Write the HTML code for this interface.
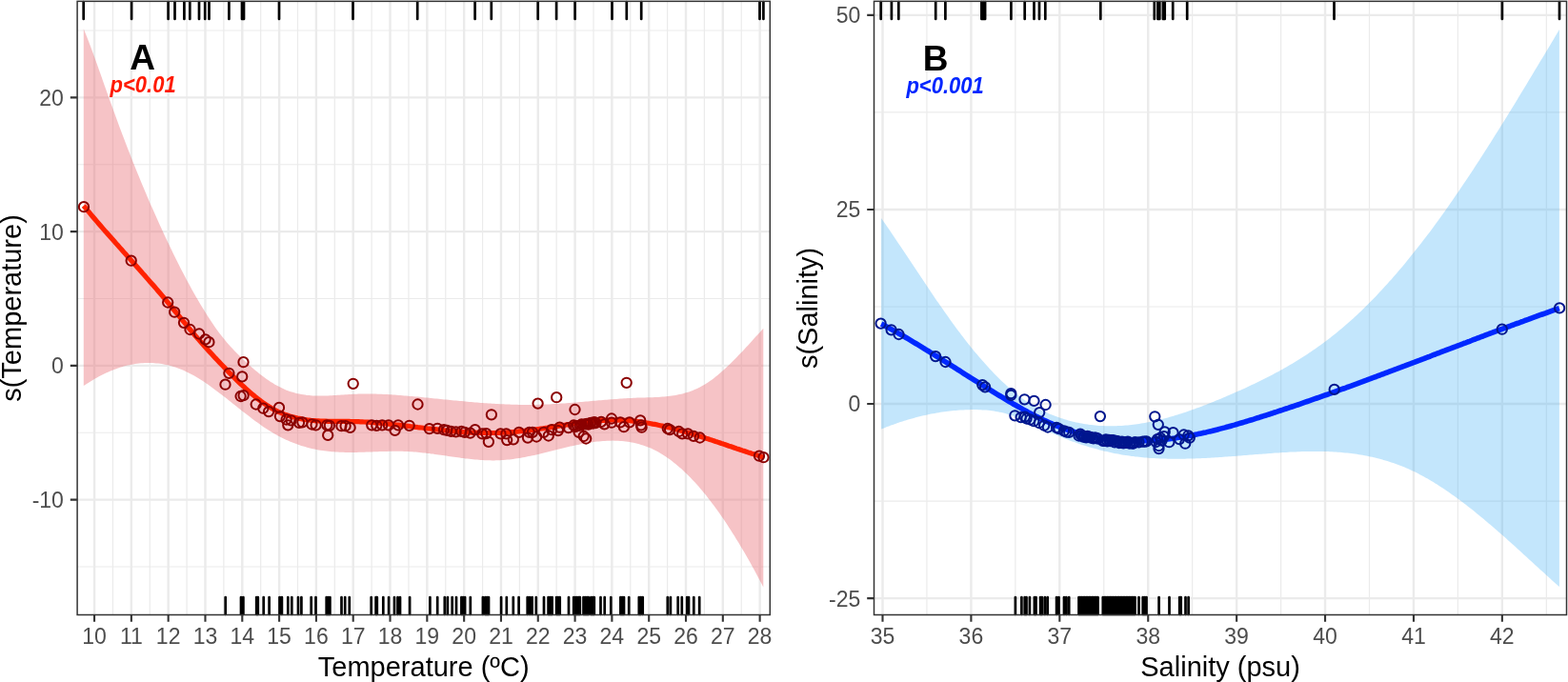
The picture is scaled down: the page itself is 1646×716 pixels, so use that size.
<!DOCTYPE html>
<html><head><meta charset="utf-8"><title>GAM smooths</title>
<style>
html,body{margin:0;padding:0;background:#fff;width:1646px;height:716px;overflow:hidden}
svg{display:block}
.mn{stroke:#ebebeb;stroke-width:1.2}
.mj{stroke:#ebebeb;stroke-width:2.4}
.rug{stroke:#000;stroke-width:2.7;fill:none;stroke-linecap:round}
.ln{stroke-width:5.2;stroke-linejoin:round;stroke-linecap:butt}
.pt circle{stroke-width:2.0}
.bd{fill:none;stroke:#333;stroke-width:1.5}
.tk{stroke:#333;stroke-width:2.1;fill:none}
text{font-family:"Liberation Sans",sans-serif}
.xl{font-size:23px;fill:#4d4d4d;text-anchor:middle}
.yl{font-size:23px;fill:#4d4d4d;text-anchor:end}
.ti{font-size:29px;fill:#000}
.lab{font-size:37px;font-weight:bold;fill:#000}
.pv{font-size:22px;font-weight:bold;font-style:italic}
</style></head>
<body>
<svg width="1646" height="716" viewBox="0 0 1646 716">
<rect width="1646" height="716" fill="#fff"/>
<line x1="81.1" y1="594.98" x2="808.3" y2="594.98" class="mn"/>
<line x1="81.1" y1="454.23" x2="808.3" y2="454.23" class="mn"/>
<line x1="81.1" y1="313.48" x2="808.3" y2="313.48" class="mn"/>
<line x1="81.1" y1="172.73" x2="808.3" y2="172.73" class="mn"/>
<line x1="81.1" y1="31.98" x2="808.3" y2="31.98" class="mn"/>
<line x1="118.45" y1="1.35" x2="118.45" y2="645.5" class="mn"/>
<line x1="157.26" y1="1.35" x2="157.26" y2="645.5" class="mn"/>
<line x1="196.07" y1="1.35" x2="196.07" y2="645.5" class="mn"/>
<line x1="234.88" y1="1.35" x2="234.88" y2="645.5" class="mn"/>
<line x1="273.69" y1="1.35" x2="273.69" y2="645.5" class="mn"/>
<line x1="312.5" y1="1.35" x2="312.5" y2="645.5" class="mn"/>
<line x1="351.31" y1="1.35" x2="351.31" y2="645.5" class="mn"/>
<line x1="390.13" y1="1.35" x2="390.13" y2="645.5" class="mn"/>
<line x1="428.94" y1="1.35" x2="428.94" y2="645.5" class="mn"/>
<line x1="467.75" y1="1.35" x2="467.75" y2="645.5" class="mn"/>
<line x1="506.56" y1="1.35" x2="506.56" y2="645.5" class="mn"/>
<line x1="545.37" y1="1.35" x2="545.37" y2="645.5" class="mn"/>
<line x1="584.17" y1="1.35" x2="584.17" y2="645.5" class="mn"/>
<line x1="622.99" y1="1.35" x2="622.99" y2="645.5" class="mn"/>
<line x1="661.79" y1="1.35" x2="661.79" y2="645.5" class="mn"/>
<line x1="700.61" y1="1.35" x2="700.61" y2="645.5" class="mn"/>
<line x1="739.41" y1="1.35" x2="739.41" y2="645.5" class="mn"/>
<line x1="778.23" y1="1.35" x2="778.23" y2="645.5" class="mn"/>
<line x1="81.1" y1="524.6" x2="808.3" y2="524.6" class="mj"/>
<line x1="81.1" y1="383.85" x2="808.3" y2="383.85" class="mj"/>
<line x1="81.1" y1="243.1" x2="808.3" y2="243.1" class="mj"/>
<line x1="81.1" y1="102.35" x2="808.3" y2="102.35" class="mj"/>
<line x1="99.05" y1="1.35" x2="99.05" y2="645.5" class="mj"/>
<line x1="137.86" y1="1.35" x2="137.86" y2="645.5" class="mj"/>
<line x1="176.67" y1="1.35" x2="176.67" y2="645.5" class="mj"/>
<line x1="215.48" y1="1.35" x2="215.48" y2="645.5" class="mj"/>
<line x1="254.29" y1="1.35" x2="254.29" y2="645.5" class="mj"/>
<line x1="293.1" y1="1.35" x2="293.1" y2="645.5" class="mj"/>
<line x1="331.91" y1="1.35" x2="331.91" y2="645.5" class="mj"/>
<line x1="370.72" y1="1.35" x2="370.72" y2="645.5" class="mj"/>
<line x1="409.53" y1="1.35" x2="409.53" y2="645.5" class="mj"/>
<line x1="448.34" y1="1.35" x2="448.34" y2="645.5" class="mj"/>
<line x1="487.15" y1="1.35" x2="487.15" y2="645.5" class="mj"/>
<line x1="525.96" y1="1.35" x2="525.96" y2="645.5" class="mj"/>
<line x1="564.77" y1="1.35" x2="564.77" y2="645.5" class="mj"/>
<line x1="603.58" y1="1.35" x2="603.58" y2="645.5" class="mj"/>
<line x1="642.39" y1="1.35" x2="642.39" y2="645.5" class="mj"/>
<line x1="681.2" y1="1.35" x2="681.2" y2="645.5" class="mj"/>
<line x1="720.01" y1="1.35" x2="720.01" y2="645.5" class="mj"/>
<line x1="758.82" y1="1.35" x2="758.82" y2="645.5" class="mj"/>
<line x1="797.63" y1="1.35" x2="797.63" y2="645.5" class="mj"/>
<polygon points="87.8,30.2 89.8,35.2 91.8,40.3 93.8,45.5 95.8,50.8 97.8,56.2 99.8,61.7 101.8,67.3 103.8,73.0 105.8,78.6 107.8,84.3 109.8,90.0 111.9,95.7 113.9,101.4 115.9,107.0 117.9,112.6 119.9,118.1 121.9,123.6 123.9,129.1 125.9,134.4 127.9,139.8 129.9,145.1 131.9,150.3 133.9,155.5 135.9,160.6 137.9,165.7 139.9,170.8 141.9,175.8 143.9,180.7 145.9,185.6 147.9,190.5 149.9,195.3 151.9,200.1 153.9,204.8 155.9,209.5 157.9,214.2 160.0,218.8 162.0,223.3 164.0,227.8 166.0,232.3 168.0,236.7 170.0,241.1 172.0,245.4 174.0,249.7 176.0,253.9 178.0,258.1 180.0,262.3 182.0,266.4 184.0,270.5 186.0,274.5 188.0,278.5 190.0,282.4 192.0,286.2 194.0,290.1 196.0,293.9 198.0,297.6 200.0,301.3 202.0,304.9 204.0,308.5 206.0,312.0 208.1,315.5 210.1,318.9 212.1,322.3 214.1,325.6 216.1,328.8 218.1,332.0 220.1,335.1 222.1,338.1 224.1,341.1 226.1,344.0 228.1,346.7 230.1,349.4 232.1,352.0 234.1,354.6 236.1,357.0 238.1,359.4 240.1,361.7 242.1,363.9 244.1,366.1 246.1,368.2 248.1,370.3 250.1,372.3 252.1,374.3 254.1,376.2 256.2,378.1 258.2,380.0 260.2,381.9 262.2,383.7 264.2,385.5 266.2,387.2 268.2,388.9 270.2,390.6 272.2,392.2 274.2,393.7 276.2,395.3 278.2,396.7 280.2,398.2 282.2,399.5 284.2,400.9 286.2,402.1 288.2,403.4 290.2,404.5 292.2,405.6 294.2,406.6 296.2,407.6 298.2,408.5 300.2,409.4 302.3,410.2 304.3,410.9 306.3,411.5 308.3,412.1 310.3,412.7 312.3,413.2 314.3,413.6 316.3,414.0 318.3,414.3 320.3,414.6 322.3,414.9 324.3,415.1 326.3,415.2 328.3,415.4 330.3,415.5 332.3,415.5 334.3,415.6 336.3,415.6 338.3,415.6 340.3,415.5 342.3,415.5 344.3,415.4 346.3,415.3 348.3,415.2 350.4,415.1 352.4,415.0 354.4,414.8 356.4,414.7 358.4,414.6 360.4,414.4 362.4,414.3 364.4,414.2 366.4,414.0 368.4,413.9 370.4,413.8 372.4,413.7 374.4,413.7 376.4,413.6 378.4,413.6 380.4,413.5 382.4,413.5 384.4,413.5 386.4,413.5 388.4,413.5 390.4,413.5 392.4,413.6 394.4,413.6 396.4,413.7 398.5,413.7 400.5,413.8 402.5,413.9 404.5,414.0 406.5,414.1 408.5,414.2 410.5,414.3 412.5,414.5 414.5,414.6 416.5,414.7 418.5,414.9 420.5,415.0 422.5,415.2 424.5,415.4 426.5,415.5 428.5,415.7 430.5,415.9 432.5,416.0 434.5,416.2 436.5,416.4 438.5,416.6 440.5,416.8 442.5,417.0 444.6,417.2 446.6,417.4 448.6,417.6 450.6,417.8 452.6,418.0 454.6,418.2 456.6,418.4 458.6,418.6 460.6,418.8 462.6,419.0 464.6,419.2 466.6,419.4 468.6,419.6 470.6,419.8 472.6,420.0 474.6,420.2 476.6,420.4 478.6,420.6 480.6,420.8 482.6,421.0 484.6,421.1 486.6,421.3 488.6,421.5 490.6,421.7 492.7,421.9 494.7,422.0 496.7,422.2 498.7,422.4 500.7,422.5 502.7,422.7 504.7,422.9 506.7,423.0 508.7,423.2 510.7,423.3 512.7,423.4 514.7,423.6 516.7,423.7 518.7,423.8 520.7,423.9 522.7,424.0 524.7,424.2 526.7,424.3 528.7,424.3 530.7,424.4 532.7,424.5 534.7,424.6 536.7,424.7 538.7,424.7 540.8,424.8 542.8,424.8 544.8,424.9 546.8,424.9 548.8,424.9 550.8,424.9 552.8,424.9 554.8,424.9 556.8,424.9 558.8,424.9 560.8,424.9 562.8,424.9 564.8,424.8 566.8,424.8 568.8,424.7 570.8,424.6 572.8,424.5 574.8,424.4 576.8,424.4 578.8,424.3 580.8,424.1 582.8,424.0 584.8,423.9 586.8,423.8 588.9,423.6 590.9,423.5 592.9,423.4 594.9,423.2 596.9,423.1 598.9,422.9 600.9,422.7 602.9,422.6 604.9,422.4 606.9,422.2 608.9,422.1 610.9,421.9 612.9,421.7 614.9,421.6 616.9,421.4 618.9,421.2 620.9,421.0 622.9,420.8 624.9,420.7 626.9,420.5 628.9,420.3 630.9,420.2 632.9,420.0 635.0,419.8 637.0,419.7 639.0,419.5 641.0,419.3 643.0,419.2 645.0,419.0 647.0,418.9 649.0,418.7 651.0,418.6 653.0,418.5 655.0,418.3 657.0,418.2 659.0,418.1 661.0,418.0 663.0,417.9 665.0,417.8 667.0,417.7 669.0,417.6 671.0,417.6 673.0,417.5 675.0,417.4 677.0,417.4 679.0,417.3 681.0,417.3 683.1,417.2 685.1,417.2 687.1,417.1 689.1,417.0 691.1,416.9 693.1,416.8 695.1,416.6 697.1,416.5 699.1,416.3 701.1,416.1 703.1,415.8 705.1,415.6 707.1,415.3 709.1,414.9 711.1,414.5 713.1,414.1 715.1,413.7 717.1,413.2 719.1,412.6 721.1,412.0 723.1,411.4 725.1,410.7 727.1,409.9 729.1,409.1 731.2,408.2 733.2,407.2 735.2,406.2 737.2,405.1 739.2,404.0 741.2,402.8 743.2,401.5 745.2,400.1 747.2,398.7 749.2,397.2 751.2,395.6 753.2,394.0 755.2,392.3 757.2,390.6 759.2,388.8 761.2,387.0 763.2,385.1 765.2,383.2 767.2,381.3 769.2,379.3 771.2,377.3 773.2,375.2 775.2,373.1 777.2,371.0 779.3,368.9 781.3,366.8 783.3,364.6 785.3,362.4 787.3,360.2 789.3,358.0 791.3,355.8 793.3,353.6 795.3,351.4 797.3,349.2 799.3,347.0 801.3,344.8 801.3,616.4 799.3,612.5 797.3,608.7 795.3,605.0 793.3,601.2 791.3,597.6 789.3,593.9 787.3,590.3 785.3,586.8 783.3,583.2 781.3,579.8 779.3,576.4 777.2,573.0 775.2,569.6 773.2,566.4 771.2,563.1 769.2,559.9 767.2,556.8 765.2,553.7 763.2,550.6 761.2,547.6 759.2,544.6 757.2,541.7 755.2,538.8 753.2,536.0 751.2,533.2 749.2,530.5 747.2,527.9 745.2,525.2 743.2,522.7 741.2,520.1 739.2,517.7 737.2,515.3 735.2,512.9 733.2,510.6 731.2,508.3 729.1,506.1 727.1,503.9 725.1,501.8 723.1,499.8 721.1,497.8 719.1,495.9 717.1,494.0 715.1,492.1 713.1,490.4 711.1,488.7 709.1,487.0 707.1,485.4 705.1,483.8 703.1,482.3 701.1,480.9 699.1,479.5 697.1,478.2 695.1,477.0 693.1,475.8 691.1,474.6 689.1,473.5 687.1,472.5 685.1,471.5 683.1,470.6 681.0,469.8 679.0,469.0 677.0,468.2 675.0,467.6 673.0,466.9 671.0,466.3 669.0,465.8 667.0,465.3 665.0,464.8 663.0,464.4 661.0,464.1 659.0,463.8 657.0,463.5 655.0,463.3 653.0,463.1 651.0,462.9 649.0,462.8 647.0,462.7 645.0,462.7 643.0,462.6 641.0,462.7 639.0,462.7 637.0,462.8 635.0,462.9 632.9,463.0 630.9,463.2 628.9,463.4 626.9,463.6 624.9,463.8 622.9,464.1 620.9,464.4 618.9,464.7 616.9,465.0 614.9,465.3 612.9,465.7 610.9,466.1 608.9,466.5 606.9,466.9 604.9,467.3 602.9,467.7 600.9,468.2 598.9,468.6 596.9,469.1 594.9,469.6 592.9,470.1 590.9,470.5 588.9,471.0 586.8,471.5 584.8,472.0 582.8,472.5 580.8,473.0 578.8,473.5 576.8,474.0 574.8,474.5 572.8,475.0 570.8,475.5 568.8,476.0 566.8,476.5 564.8,476.9 562.8,477.4 560.8,477.9 558.8,478.3 556.8,478.7 554.8,479.1 552.8,479.5 550.8,479.9 548.8,480.3 546.8,480.7 544.8,481.0 542.8,481.3 540.8,481.6 538.7,481.9 536.7,482.2 534.7,482.4 532.7,482.6 530.7,482.8 528.7,483.0 526.7,483.1 524.7,483.2 522.7,483.3 520.7,483.3 518.7,483.4 516.7,483.4 514.7,483.3 512.7,483.3 510.7,483.2 508.7,483.2 506.7,483.0 504.7,482.9 502.7,482.8 500.7,482.6 498.7,482.4 496.7,482.3 494.7,482.1 492.7,481.8 490.6,481.6 488.6,481.4 486.6,481.1 484.6,480.9 482.6,480.6 480.6,480.3 478.6,480.1 476.6,479.8 474.6,479.5 472.6,479.2 470.6,478.9 468.6,478.6 466.6,478.3 464.6,478.0 462.6,477.7 460.6,477.5 458.6,477.2 456.6,476.9 454.6,476.6 452.6,476.4 450.6,476.1 448.6,475.9 446.6,475.6 444.6,475.4 442.5,475.2 440.5,475.0 438.5,474.8 436.5,474.6 434.5,474.4 432.5,474.3 430.5,474.2 428.5,474.1 426.5,474.0 424.5,473.9 422.5,473.8 420.5,473.8 418.5,473.8 416.5,473.8 414.5,473.8 412.5,473.8 410.5,473.8 408.5,473.8 406.5,473.9 404.5,473.9 402.5,474.0 400.5,474.0 398.5,474.1 396.4,474.2 394.4,474.3 392.4,474.3 390.4,474.4 388.4,474.5 386.4,474.5 384.4,474.6 382.4,474.7 380.4,474.7 378.4,474.8 376.4,474.8 374.4,474.9 372.4,474.9 370.4,474.9 368.4,474.9 366.4,474.9 364.4,474.9 362.4,474.9 360.4,474.8 358.4,474.8 356.4,474.7 354.4,474.6 352.4,474.5 350.4,474.3 348.3,474.2 346.3,474.0 344.3,473.8 342.3,473.6 340.3,473.3 338.3,473.0 336.3,472.7 334.3,472.4 332.3,472.0 330.3,471.6 328.3,471.2 326.3,470.7 324.3,470.2 322.3,469.7 320.3,469.1 318.3,468.5 316.3,467.9 314.3,467.3 312.3,466.6 310.3,465.8 308.3,465.1 306.3,464.3 304.3,463.4 302.3,462.6 300.2,461.7 298.2,460.7 296.2,459.7 294.2,458.7 292.2,457.7 290.2,456.6 288.2,455.4 286.2,454.3 284.2,453.1 282.2,451.8 280.2,450.5 278.2,449.2 276.2,447.9 274.2,446.5 272.2,445.1 270.2,443.6 268.2,442.2 266.2,440.7 264.2,439.2 262.2,437.6 260.2,436.1 258.2,434.5 256.2,433.0 254.1,431.4 252.1,429.8 250.1,428.2 248.1,426.6 246.1,425.0 244.1,423.4 242.1,421.8 240.1,420.2 238.1,418.6 236.1,417.0 234.1,415.5 232.1,413.9 230.1,412.4 228.1,410.9 226.1,409.4 224.1,407.9 222.1,406.4 220.1,405.0 218.1,403.6 216.1,402.2 214.1,400.8 212.1,399.5 210.1,398.2 208.1,397.0 206.0,395.8 204.0,394.6 202.0,393.5 200.0,392.4 198.0,391.4 196.0,390.4 194.0,389.5 192.0,388.6 190.0,387.8 188.0,387.0 186.0,386.3 184.0,385.6 182.0,384.9 180.0,384.3 178.0,383.8 176.0,383.3 174.0,382.9 172.0,382.5 170.0,382.1 168.0,381.8 166.0,381.6 164.0,381.4 162.0,381.2 160.0,381.1 157.9,381.0 155.9,381.0 153.9,381.0 151.9,381.1 149.9,381.2 147.9,381.3 145.9,381.5 143.9,381.8 141.9,382.1 139.9,382.4 137.9,382.7 135.9,383.2 133.9,383.6 131.9,384.1 129.9,384.6 127.9,385.2 125.9,385.8 123.9,386.5 121.9,387.2 119.9,388.0 117.9,388.7 115.9,389.6 113.9,390.4 111.9,391.3 109.8,392.3 107.8,393.2 105.8,394.3 103.8,395.3 101.8,396.4 99.8,397.5 97.8,398.7 95.8,399.9 93.8,401.2 91.8,402.4 89.8,403.8 87.8,405.1" fill="rgb(232,105,112)" fill-opacity="0.4"/>
<path d="M87.7 2.0V20.0M138.1 2.0V20.0M176.6 2.0V20.0M183.5 2.0V20.0M193.4 2.0V20.0M199.3 2.0V20.0M209.0 2.0V20.0M215.2 2.0V20.0M219.5 2.0V20.0M240.4 2.0V20.0M254.0 2.0V20.0M256.0 2.0V20.0M293.0 2.0V20.0M370.5 2.0V20.0M438.2 2.0V20.0M498.6 2.0V20.0M515.8 2.0V20.0M564.7 2.0V20.0M584.1 2.0V20.0M603.6 2.0V20.0M642.5 2.0V20.0M657.8 2.0V20.0M673.2 2.0V20.0M797.5 2.0V20.0M801.4 2.0V20.0M236.7 627.0V644.9M253.0 627.0V644.9M255.4 627.0V644.9M269.2 627.0V644.9M270.8 627.0V644.9M276.7 627.0V644.9M282.6 627.0V644.9M293.5 627.0V644.9M295.9 627.0V644.9M302.3 627.0V644.9M306.3 627.0V644.9M313.0 627.0V644.9M316.4 627.0V644.9M326.7 627.0V644.9M331.5 627.0V644.9M342.7 627.0V644.9M344.5 627.0V644.9M346.4 627.0V644.9M358.5 627.0V644.9M362.2 627.0V644.9M366.8 627.0V644.9M389.7 627.0V644.9M394.6 627.0V644.9M395.8 627.0V644.9M402.3 627.0V644.9M408.1 627.0V644.9M414.0 627.0V644.9M417.5 627.0V644.9M420.0 627.0V644.9M430.1 627.0V644.9M451.4 627.0V644.9M459.2 627.0V644.9M466.8 627.0V644.9M469.9 627.0V644.9M474.7 627.0V644.9M479.0 627.0V644.9M484.4 627.0V644.9M486.3 627.0V644.9M488.1 627.0V644.9M493.8 627.0V644.9M506.9 627.0V644.9M509.4 627.0V644.9M511.2 627.0V644.9M513.0 627.0V644.9M526.1 627.0V644.9M531.8 627.0V644.9M538.8 627.0V644.9M544.6 627.0V644.9M553.7 627.0V644.9M556.1 627.0V644.9M558.6 627.0V644.9M562.8 627.0V644.9M571.0 627.0V644.9M575.6 627.0V644.9M577.6 627.0V644.9M579.6 627.0V644.9M584.1 627.0V644.9M585.9 627.0V644.9M587.7 627.0V644.9M597.0 627.0V644.9M602.2 627.0V644.9M604.0 627.0V644.9M605.8 627.0V644.9M607.6 627.0V644.9M608.8 627.0V644.9M612.5 627.0V644.9M614.3 627.0V644.9M616.1 627.0V644.9M617.7 627.0V644.9M620.4 627.0V644.9M622.2 627.0V644.9M623.8 627.0V644.9M630.5 627.0V644.9M634.7 627.0V644.9M641.3 627.0V644.9M651.4 627.0V644.9M653.2 627.0V644.9M655.0 627.0V644.9M660.2 627.0V644.9M670.8 627.0V644.9M672.6 627.0V644.9M674.7 627.0V644.9M700.8 627.0V644.9M703.9 627.0V644.9M711.7 627.0V644.9M715.8 627.0V644.9M721.2 627.0V644.9M723.0 627.0V644.9M728.3 627.0V644.9M734.2 627.0V644.9" class="rug"/>
<polyline points="87.8,216.0 89.8,218.4 91.8,220.8 93.8,223.2 95.8,225.6 97.8,228.0 99.8,230.3 101.8,232.6 103.8,235.0 105.8,237.3 107.8,239.6 109.8,241.9 111.9,244.2 113.9,246.5 115.9,248.8 117.9,251.0 119.9,253.3 121.9,255.6 123.9,257.8 125.9,260.1 127.9,262.3 129.9,264.6 131.9,266.8 133.9,269.1 135.9,271.3 137.9,273.5 139.9,275.8 141.9,278.0 143.9,280.3 145.9,282.5 147.9,284.8 149.9,287.1 151.9,289.3 153.9,291.6 155.9,293.9 157.9,296.2 160.0,298.5 162.0,300.8 164.0,303.1 166.0,305.5 168.0,307.8 170.0,310.2 172.0,312.5 174.0,314.9 176.0,317.3 178.0,319.7 180.0,322.1 182.0,324.6 184.0,327.0 186.0,329.5 188.0,331.9 190.0,334.4 192.0,336.8 194.0,339.2 196.0,341.7 198.0,344.1 200.0,346.5 202.0,348.9 204.0,351.2 206.0,353.6 208.1,355.9 210.1,358.2 212.1,360.4 214.1,362.7 216.1,364.9 218.1,367.2 220.1,369.4 222.1,371.5 224.1,373.7 226.1,375.9 228.1,378.0 230.1,380.1 232.1,382.2 234.1,384.3 236.1,386.4 238.1,388.5 240.1,390.6 242.1,392.6 244.1,394.6 246.1,396.6 248.1,398.6 250.1,400.6 252.1,402.5 254.1,404.4 256.2,406.3 258.2,408.1 260.2,409.9 262.2,411.7 264.2,413.4 266.2,415.1 268.2,416.8 270.2,418.4 272.2,419.9 274.2,421.4 276.2,422.8 278.2,424.2 280.2,425.6 282.2,426.8 284.2,428.0 286.2,429.2 288.2,430.3 290.2,431.3 292.2,432.3 294.2,433.2 296.2,434.0 298.2,434.8 300.2,435.6 302.3,436.2 304.3,436.9 306.3,437.5 308.3,438.0 310.3,438.5 312.3,439.0 314.3,439.4 316.3,439.8 318.3,440.2 320.3,440.5 322.3,440.8 324.3,441.0 326.3,441.3 328.3,441.5 330.3,441.6 332.3,441.8 334.3,441.9 336.3,442.0 338.3,442.1 340.3,442.2 342.3,442.2 344.3,442.3 346.3,442.3 348.3,442.3 350.4,442.4 352.4,442.4 354.4,442.4 356.4,442.4 358.4,442.4 360.4,442.4 362.4,442.4 364.4,442.4 366.4,442.4 368.4,442.5 370.4,442.5 372.4,442.6 374.4,442.6 376.4,442.7 378.4,442.8 380.4,442.9 382.4,443.0 384.4,443.1 386.4,443.2 388.4,443.3 390.4,443.5 392.4,443.6 394.4,443.8 396.4,444.0 398.5,444.1 400.5,444.3 402.5,444.5 404.5,444.7 406.5,444.9 408.5,445.1 410.5,445.3 412.5,445.5 414.5,445.7 416.5,446.0 418.5,446.2 420.5,446.4 422.5,446.6 424.5,446.9 426.5,447.1 428.5,447.3 430.5,447.6 432.5,447.8 434.5,448.1 436.5,448.3 438.5,448.6 440.5,448.8 442.5,449.0 444.6,449.3 446.6,449.5 448.6,449.8 450.6,450.0 452.6,450.2 454.6,450.5 456.6,450.7 458.6,450.9 460.6,451.2 462.6,451.4 464.6,451.6 466.6,451.8 468.6,452.0 470.6,452.2 472.6,452.4 474.6,452.6 476.6,452.8 478.6,452.9 480.6,453.1 482.6,453.3 484.6,453.4 486.6,453.6 488.6,453.7 490.6,453.8 492.7,454.0 494.7,454.1 496.7,454.2 498.7,454.2 500.7,454.3 502.7,454.4 504.7,454.5 506.7,454.5 508.7,454.5 510.7,454.5 512.7,454.6 514.7,454.5 516.7,454.5 518.7,454.5 520.7,454.5 522.7,454.4 524.7,454.3 526.7,454.2 528.7,454.1 530.7,454.0 532.7,453.9 534.7,453.8 536.7,453.6 538.7,453.5 540.8,453.3 542.8,453.1 544.8,452.9 546.8,452.7 548.8,452.5 550.8,452.3 552.8,452.1 554.8,451.8 556.8,451.6 558.8,451.3 560.8,451.1 562.8,450.8 564.8,450.5 566.8,450.2 568.8,450.0 570.8,449.7 572.8,449.4 574.8,449.1 576.8,448.7 578.8,448.4 580.8,448.1 582.8,447.8 584.8,447.5 586.8,447.1 588.9,446.8 590.9,446.5 592.9,446.2 594.9,445.9 596.9,445.6 598.9,445.3 600.9,444.9 602.9,444.7 604.9,444.4 606.9,444.1 608.9,443.8 610.9,443.5 612.9,443.3 614.9,443.0 616.9,442.8 618.9,442.6 620.9,442.3 622.9,442.1 624.9,442.0 626.9,441.8 628.9,441.6 630.9,441.5 632.9,441.4 635.0,441.3 637.0,441.2 639.0,441.1 641.0,441.0 643.0,441.0 645.0,441.0 647.0,441.0 649.0,441.1 651.0,441.1 653.0,441.2 655.0,441.3 657.0,441.4 659.0,441.6 661.0,441.7 663.0,441.9 665.0,442.1 667.0,442.3 669.0,442.5 671.0,442.8 673.0,443.1 675.0,443.4 677.0,443.7 679.0,444.0 681.0,444.3 683.1,444.7 685.1,445.1 687.1,445.4 689.1,445.8 691.1,446.3 693.1,446.7 695.1,447.1 697.1,447.6 699.1,448.1 701.1,448.5 703.1,449.0 705.1,449.5 707.1,450.0 709.1,450.6 711.1,451.1 713.1,451.7 715.1,452.2 717.1,452.8 719.1,453.3 721.1,453.9 723.1,454.5 725.1,455.1 727.1,455.7 729.1,456.3 731.2,457.0 733.2,457.6 735.2,458.2 737.2,458.9 739.2,459.5 741.2,460.2 743.2,460.8 745.2,461.5 747.2,462.1 749.2,462.8 751.2,463.5 753.2,464.1 755.2,464.8 757.2,465.5 759.2,466.1 761.2,466.8 763.2,467.5 765.2,468.2 767.2,468.8 769.2,469.5 771.2,470.2 773.2,470.9 775.2,471.5 777.2,472.2 779.3,472.9 781.3,473.5 783.3,474.2 785.3,474.9 787.3,475.5 789.3,476.2 791.3,476.8 793.3,477.5 795.3,478.1 797.3,478.7 799.3,479.4 801.3,480.0" fill="none" stroke="#ff2200" class="ln"/>
<g fill="none" stroke="#8b0000" class="pt"><circle cx="88.0" cy="217.2" r="5.15"/><circle cx="137.7" cy="273.7" r="5.15"/><circle cx="176.2" cy="317.5" r="5.15"/><circle cx="183.2" cy="327.7" r="5.15"/><circle cx="193.0" cy="338.8" r="5.15"/><circle cx="199.5" cy="346.0" r="5.15"/><circle cx="209.1" cy="350.5" r="5.15"/><circle cx="215.6" cy="356.3" r="5.15"/><circle cx="219.4" cy="359.2" r="5.15"/><circle cx="255.5" cy="380.2" r="5.15"/><circle cx="240.4" cy="391.8" r="5.15"/><circle cx="254.2" cy="395.4" r="5.15"/><circle cx="236.5" cy="403.7" r="5.15"/><circle cx="370.7" cy="402.8" r="5.15"/><circle cx="252.6" cy="416.0" r="5.15"/><circle cx="255.6" cy="415.2" r="5.15"/><circle cx="268.7" cy="424.5" r="5.15"/><circle cx="276.3" cy="428.7" r="5.15"/><circle cx="282.1" cy="432.1" r="5.15"/><circle cx="293.0" cy="427.9" r="5.15"/><circle cx="293.9" cy="437.1" r="5.15"/><circle cx="300.6" cy="440.5" r="5.15"/><circle cx="302.3" cy="446.3" r="5.15"/><circle cx="305.6" cy="441.3" r="5.15"/><circle cx="314.0" cy="443.8" r="5.15"/><circle cx="317.4" cy="443.3" r="5.15"/><circle cx="327.4" cy="445.5" r="5.15"/><circle cx="331.6" cy="446.3" r="5.15"/><circle cx="343.3" cy="446.3" r="5.15"/><circle cx="345.9" cy="446.8" r="5.15"/><circle cx="344.2" cy="456.9" r="5.15"/><circle cx="358.4" cy="447.2" r="5.15"/><circle cx="362.6" cy="447.2" r="5.15"/><circle cx="367.6" cy="448.9" r="5.15"/><circle cx="390.3" cy="446.3" r="5.15"/><circle cx="395.3" cy="446.8" r="5.15"/><circle cx="401.2" cy="446.3" r="5.15"/><circle cx="407.9" cy="446.3" r="5.15"/><circle cx="414.6" cy="451.9" r="5.15"/><circle cx="418.0" cy="446.3" r="5.15"/><circle cx="429.7" cy="446.8" r="5.15"/><circle cx="438.5" cy="424.5" r="5.15"/><circle cx="450.7" cy="450.1" r="5.15"/><circle cx="459.2" cy="449.8" r="5.15"/><circle cx="466.0" cy="451.2" r="5.15"/><circle cx="469.3" cy="451.8" r="5.15"/><circle cx="473.5" cy="452.9" r="5.15"/><circle cx="478.6" cy="453.4" r="5.15"/><circle cx="484.4" cy="452.9" r="5.15"/><circle cx="487.8" cy="453.8" r="5.15"/><circle cx="493.6" cy="454.6" r="5.15"/><circle cx="498.7" cy="451.2" r="5.15"/><circle cx="506.2" cy="455.4" r="5.15"/><circle cx="510.4" cy="455.1" r="5.15"/><circle cx="515.9" cy="435.3" r="5.15"/><circle cx="512.9" cy="463.8" r="5.15"/><circle cx="525.5" cy="455.4" r="5.15"/><circle cx="531.4" cy="455.4" r="5.15"/><circle cx="532.2" cy="462.1" r="5.15"/><circle cx="538.9" cy="461.3" r="5.15"/><circle cx="544.8" cy="453.8" r="5.15"/><circle cx="554.0" cy="459.6" r="5.15"/><circle cx="555.7" cy="453.8" r="5.15"/><circle cx="559.0" cy="453.8" r="5.15"/><circle cx="563.2" cy="458.5" r="5.15"/><circle cx="564.6" cy="423.6" r="5.15"/><circle cx="570.8" cy="453.8" r="5.15"/><circle cx="575.8" cy="457.5" r="5.15"/><circle cx="579.1" cy="451.2" r="5.15"/><circle cx="584.2" cy="417.2" r="5.15"/><circle cx="585.9" cy="452.1" r="5.15"/><circle cx="587.5" cy="448.7" r="5.15"/><circle cx="596.7" cy="449.1" r="5.15"/><circle cx="603.5" cy="430.0" r="5.15"/><circle cx="606.0" cy="447.1" r="5.15"/><circle cx="607.6" cy="453.8" r="5.15"/><circle cx="612.7" cy="458.0" r="5.15"/><circle cx="615.2" cy="460.5" r="5.15"/><circle cx="614.3" cy="445.4" r="5.15"/><circle cx="619.4" cy="444.5" r="5.15"/><circle cx="622.7" cy="444.5" r="5.15"/><circle cx="602.2" cy="446.5" r="5.15"/><circle cx="604.0" cy="448.0" r="5.15"/><circle cx="608.8" cy="446.6" r="5.15"/><circle cx="610.5" cy="445.5" r="5.15"/><circle cx="616.1" cy="444.8" r="5.15"/><circle cx="617.7" cy="445.6" r="5.15"/><circle cx="620.4" cy="443.8" r="5.15"/><circle cx="623.8" cy="443.2" r="5.15"/><circle cx="625.5" cy="444.0" r="5.15"/><circle cx="631.1" cy="442.9" r="5.15"/><circle cx="634.5" cy="445.4" r="5.15"/><circle cx="642.0" cy="439.5" r="5.15"/><circle cx="642.0" cy="443.7" r="5.15"/><circle cx="651.2" cy="443.4" r="5.15"/><circle cx="654.9" cy="448.2" r="5.15"/><circle cx="657.7" cy="401.8" r="5.15"/><circle cx="660.8" cy="443.4" r="5.15"/><circle cx="672.2" cy="441.4" r="5.15"/><circle cx="673.0" cy="446.3" r="5.15"/><circle cx="673.6" cy="448.7" r="5.15"/><circle cx="700.8" cy="450.0" r="5.15"/><circle cx="703.1" cy="451.1" r="5.15"/><circle cx="712.6" cy="453.0" r="5.15"/><circle cx="716.2" cy="455.4" r="5.15"/><circle cx="722.1" cy="455.4" r="5.15"/><circle cx="728.1" cy="457.8" r="5.15"/><circle cx="734.7" cy="459.5" r="5.15"/><circle cx="797.0" cy="478.7" r="5.15"/><circle cx="801.5" cy="480.2" r="5.15"/></g>
<rect x="81.1" y="1.35" width="727.2" height="644.15" class="bd"/>
<path d="M99.05 645.5V652.8M137.86 645.5V652.8M176.67 645.5V652.8M215.48 645.5V652.8M254.29 645.5V652.8M293.10 645.5V652.8M331.91 645.5V652.8M370.72 645.5V652.8M409.53 645.5V652.8M448.34 645.5V652.8M487.15 645.5V652.8M525.96 645.5V652.8M564.77 645.5V652.8M603.58 645.5V652.8M642.39 645.5V652.8M681.20 645.5V652.8M720.01 645.5V652.8M758.82 645.5V652.8M797.63 645.5V652.8M73.8 524.60H81.1M73.8 383.85H81.1M73.8 243.10H81.1M73.8 102.35H81.1" class="tk"/>
<text x="99.05" y="676.2" class="xl">10</text>
<text x="137.86" y="676.2" class="xl">11</text>
<text x="176.67" y="676.2" class="xl">12</text>
<text x="215.48" y="676.2" class="xl">13</text>
<text x="254.29" y="676.2" class="xl">14</text>
<text x="293.10" y="676.2" class="xl">15</text>
<text x="331.91" y="676.2" class="xl">16</text>
<text x="370.72" y="676.2" class="xl">17</text>
<text x="409.53" y="676.2" class="xl">18</text>
<text x="448.34" y="676.2" class="xl">19</text>
<text x="487.15" y="676.2" class="xl">20</text>
<text x="525.96" y="676.2" class="xl">21</text>
<text x="564.77" y="676.2" class="xl">22</text>
<text x="603.58" y="676.2" class="xl">23</text>
<text x="642.39" y="676.2" class="xl">24</text>
<text x="681.20" y="676.2" class="xl">25</text>
<text x="720.01" y="676.2" class="xl">26</text>
<text x="758.82" y="676.2" class="xl">27</text>
<text x="797.63" y="676.2" class="xl">28</text>
<text x="66.9" y="533.00" class="yl">-10</text>
<text x="66.9" y="392.25" class="yl">0</text>
<text x="66.9" y="251.50" class="yl">10</text>
<text x="66.9" y="110.75" class="yl">20</text>
<text x="136.3" y="73.2" class="lab">A</text>
<text transform="translate(115.6 97.3) scale(1 1.07)" class="pv" fill="#ff1a00">p&lt;0.01</text>
<line x1="917.5" y1="526.09" x2="1644.5" y2="526.09" class="mn"/>
<line x1="917.5" y1="322.01" x2="1644.5" y2="322.01" class="mn"/>
<line x1="917.5" y1="117.94" x2="1644.5" y2="117.94" class="mn"/>
<line x1="972.96" y1="1.35" x2="972.96" y2="645.5" class="mn"/>
<line x1="1065.87" y1="1.35" x2="1065.87" y2="645.5" class="mn"/>
<line x1="1158.78" y1="1.35" x2="1158.78" y2="645.5" class="mn"/>
<line x1="1251.68" y1="1.35" x2="1251.68" y2="645.5" class="mn"/>
<line x1="1344.6" y1="1.35" x2="1344.6" y2="645.5" class="mn"/>
<line x1="1437.51" y1="1.35" x2="1437.51" y2="645.5" class="mn"/>
<line x1="1530.41" y1="1.35" x2="1530.41" y2="645.5" class="mn"/>
<line x1="1623.32" y1="1.35" x2="1623.32" y2="645.5" class="mn"/>
<line x1="917.5" y1="628.12" x2="1644.5" y2="628.12" class="mj"/>
<line x1="917.5" y1="424.05" x2="1644.5" y2="424.05" class="mj"/>
<line x1="917.5" y1="219.97" x2="1644.5" y2="219.97" class="mj"/>
<line x1="917.5" y1="15.9" x2="1644.5" y2="15.9" class="mj"/>
<line x1="926.5" y1="1.35" x2="926.5" y2="645.5" class="mj"/>
<line x1="1019.41" y1="1.35" x2="1019.41" y2="645.5" class="mj"/>
<line x1="1112.32" y1="1.35" x2="1112.32" y2="645.5" class="mj"/>
<line x1="1205.23" y1="1.35" x2="1205.23" y2="645.5" class="mj"/>
<line x1="1298.14" y1="1.35" x2="1298.14" y2="645.5" class="mj"/>
<line x1="1391.05" y1="1.35" x2="1391.05" y2="645.5" class="mj"/>
<line x1="1483.96" y1="1.35" x2="1483.96" y2="645.5" class="mj"/>
<line x1="1576.87" y1="1.35" x2="1576.87" y2="645.5" class="mj"/>
<polygon points="925.1,229.0 927.1,231.9 929.1,234.8 931.1,237.7 933.1,240.6 935.1,243.5 937.1,246.5 939.1,249.4 941.1,252.4 943.1,255.4 945.2,258.4 947.2,261.4 949.2,264.4 951.2,267.4 953.2,270.4 955.2,273.5 957.2,276.5 959.2,279.5 961.2,282.5 963.2,285.5 965.2,288.6 967.2,291.6 969.2,294.6 971.2,297.6 973.2,300.6 975.2,303.6 977.2,306.5 979.2,309.5 981.2,312.4 983.2,315.4 985.3,318.3 987.3,321.2 989.3,324.1 991.3,326.9 993.3,329.8 995.3,332.6 997.3,335.4 999.3,338.2 1001.3,340.9 1003.3,343.7 1005.3,346.4 1007.3,349.1 1009.3,351.7 1011.3,354.3 1013.3,356.9 1015.3,359.5 1017.3,362.0 1019.3,364.5 1021.3,367.0 1023.3,369.4 1025.4,371.8 1027.4,374.2 1029.4,376.5 1031.4,378.8 1033.4,381.1 1035.4,383.3 1037.4,385.5 1039.4,387.7 1041.4,389.8 1043.4,391.9 1045.4,393.9 1047.4,396.0 1049.4,397.9 1051.4,399.9 1053.4,401.8 1055.4,403.6 1057.4,405.5 1059.4,407.2 1061.4,409.0 1063.4,410.7 1065.5,412.3 1067.5,413.9 1069.5,415.5 1071.5,417.0 1073.5,418.5 1075.5,419.9 1077.5,421.3 1079.5,422.6 1081.5,423.9 1083.5,425.2 1085.5,426.4 1087.5,427.5 1089.5,428.6 1091.5,429.7 1093.5,430.7 1095.5,431.7 1097.5,432.6 1099.5,433.5 1101.5,434.4 1103.6,435.2 1105.6,436.0 1107.6,436.8 1109.6,437.6 1111.6,438.3 1113.6,438.9 1115.6,439.6 1117.6,440.2 1119.6,440.8 1121.6,441.4 1123.6,441.9 1125.6,442.4 1127.6,442.9 1129.6,443.4 1131.6,443.8 1133.6,444.2 1135.6,444.6 1137.6,445.0 1139.6,445.3 1141.6,445.6 1143.7,445.9 1145.7,446.1 1147.7,446.3 1149.7,446.5 1151.7,446.7 1153.7,446.9 1155.7,447.0 1157.7,447.1 1159.7,447.2 1161.7,447.2 1163.7,447.3 1165.7,447.3 1167.7,447.3 1169.7,447.3 1171.7,447.2 1173.7,447.1 1175.7,447.0 1177.7,446.9 1179.7,446.8 1181.7,446.6 1183.8,446.4 1185.8,446.2 1187.8,446.0 1189.8,445.8 1191.8,445.5 1193.8,445.2 1195.8,444.9 1197.8,444.6 1199.8,444.3 1201.8,443.9 1203.8,443.6 1205.8,443.2 1207.8,442.8 1209.8,442.3 1211.8,441.9 1213.8,441.4 1215.8,441.0 1217.8,440.5 1219.8,440.0 1221.9,439.5 1223.9,438.9 1225.9,438.4 1227.9,437.8 1229.9,437.3 1231.9,436.7 1233.9,436.1 1235.9,435.5 1237.9,434.8 1239.9,434.2 1241.9,433.5 1243.9,432.9 1245.9,432.2 1247.9,431.5 1249.9,430.8 1251.9,430.1 1253.9,429.4 1255.9,428.6 1257.9,427.9 1259.9,427.2 1262.0,426.4 1264.0,425.6 1266.0,424.9 1268.0,424.1 1270.0,423.3 1272.0,422.5 1274.0,421.7 1276.0,420.8 1278.0,420.0 1280.0,419.2 1282.0,418.4 1284.0,417.5 1286.0,416.7 1288.0,415.8 1290.0,414.9 1292.0,414.1 1294.0,413.2 1296.0,412.3 1298.0,411.5 1300.0,410.6 1302.1,409.7 1304.1,408.8 1306.1,407.9 1308.1,406.9 1310.1,406.0 1312.1,405.1 1314.1,404.1 1316.1,403.2 1318.1,402.2 1320.1,401.3 1322.1,400.3 1324.1,399.3 1326.1,398.3 1328.1,397.3 1330.1,396.3 1332.1,395.3 1334.1,394.2 1336.1,393.2 1338.1,392.1 1340.1,391.0 1342.2,389.9 1344.2,388.8 1346.2,387.7 1348.2,386.6 1350.2,385.4 1352.2,384.3 1354.2,383.1 1356.2,381.9 1358.2,380.7 1360.2,379.5 1362.2,378.3 1364.2,377.0 1366.2,375.8 1368.2,374.5 1370.2,373.2 1372.2,371.9 1374.2,370.5 1376.2,369.2 1378.2,367.8 1380.3,366.4 1382.3,365.0 1384.3,363.6 1386.3,362.2 1388.3,360.7 1390.3,359.2 1392.3,357.7 1394.3,356.2 1396.3,354.7 1398.3,353.1 1400.3,351.5 1402.3,349.9 1404.3,348.3 1406.3,346.6 1408.3,344.9 1410.3,343.2 1412.3,341.5 1414.3,339.8 1416.3,338.0 1418.3,336.2 1420.4,334.4 1422.4,332.6 1424.4,330.7 1426.4,328.8 1428.4,326.9 1430.4,325.0 1432.4,323.0 1434.4,321.1 1436.4,319.1 1438.4,317.1 1440.4,315.0 1442.4,312.9 1444.4,310.9 1446.4,308.7 1448.4,306.6 1450.4,304.5 1452.4,302.3 1454.4,300.1 1456.4,297.9 1458.4,295.6 1460.5,293.4 1462.5,291.1 1464.5,288.8 1466.5,286.5 1468.5,284.1 1470.5,281.8 1472.5,279.4 1474.5,277.0 1476.5,274.5 1478.5,272.1 1480.5,269.6 1482.5,267.1 1484.5,264.6 1486.5,262.1 1488.5,259.6 1490.5,257.0 1492.5,254.4 1494.5,251.8 1496.5,249.2 1498.6,246.5 1500.6,243.9 1502.6,241.2 1504.6,238.5 1506.6,235.8 1508.6,233.0 1510.6,230.3 1512.6,227.5 1514.6,224.7 1516.6,221.9 1518.6,219.0 1520.6,216.2 1522.6,213.3 1524.6,210.4 1526.6,207.5 1528.6,204.6 1530.6,201.7 1532.6,198.8 1534.6,195.8 1536.6,192.8 1538.7,189.8 1540.7,186.8 1542.7,183.8 1544.7,180.7 1546.7,177.7 1548.7,174.6 1550.7,171.5 1552.7,168.5 1554.7,165.3 1556.7,162.2 1558.7,159.1 1560.7,156.0 1562.7,152.8 1564.7,149.7 1566.7,146.5 1568.7,143.3 1570.7,140.1 1572.7,136.9 1574.7,133.7 1576.7,130.5 1578.8,127.2 1580.8,124.0 1582.8,120.7 1584.8,117.5 1586.8,114.2 1588.8,111.0 1590.8,107.7 1592.8,104.4 1594.8,101.1 1596.8,97.8 1598.8,94.5 1600.8,91.2 1602.8,87.9 1604.8,84.6 1606.8,81.3 1608.8,77.9 1610.8,74.6 1612.8,71.3 1614.8,67.9 1616.8,64.6 1618.9,61.3 1620.9,57.9 1622.9,54.6 1624.9,51.2 1626.9,47.9 1628.9,44.5 1630.9,41.2 1632.9,37.8 1634.9,34.5 1636.9,31.1 1636.9,616.1 1634.9,614.3 1632.9,612.5 1630.9,610.7 1628.9,608.9 1626.9,607.0 1624.9,605.2 1622.9,603.4 1620.9,601.6 1618.9,599.7 1616.8,597.9 1614.8,596.1 1612.8,594.2 1610.8,592.4 1608.8,590.5 1606.8,588.7 1604.8,586.9 1602.8,585.0 1600.8,583.2 1598.8,581.4 1596.8,579.6 1594.8,577.7 1592.8,575.9 1590.8,574.1 1588.8,572.3 1586.8,570.5 1584.8,568.7 1582.8,566.9 1580.8,565.1 1578.8,563.3 1576.7,561.6 1574.7,559.8 1572.7,558.1 1570.7,556.3 1568.7,554.6 1566.7,552.8 1564.7,551.1 1562.7,549.4 1560.7,547.7 1558.7,546.0 1556.7,544.3 1554.7,542.7 1552.7,541.0 1550.7,539.4 1548.7,537.8 1546.7,536.1 1544.7,534.5 1542.7,533.0 1540.7,531.4 1538.7,529.8 1536.6,528.3 1534.6,526.8 1532.6,525.3 1530.6,523.8 1528.6,522.3 1526.6,520.8 1524.6,519.4 1522.6,518.0 1520.6,516.6 1518.6,515.2 1516.6,513.8 1514.6,512.5 1512.6,511.2 1510.6,509.9 1508.6,508.6 1506.6,507.4 1504.6,506.1 1502.6,504.9 1500.6,503.7 1498.6,502.6 1496.5,501.4 1494.5,500.3 1492.5,499.2 1490.5,498.2 1488.5,497.1 1486.5,496.1 1484.5,495.1 1482.5,494.2 1480.5,493.2 1478.5,492.3 1476.5,491.5 1474.5,490.6 1472.5,489.8 1470.5,489.0 1468.5,488.2 1466.5,487.5 1464.5,486.7 1462.5,486.0 1460.5,485.4 1458.4,484.7 1456.4,484.1 1454.4,483.5 1452.4,482.9 1450.4,482.3 1448.4,481.8 1446.4,481.3 1444.4,480.8 1442.4,480.3 1440.4,479.8 1438.4,479.4 1436.4,479.0 1434.4,478.6 1432.4,478.2 1430.4,477.8 1428.4,477.5 1426.4,477.2 1424.4,476.8 1422.4,476.6 1420.4,476.3 1418.3,476.0 1416.3,475.8 1414.3,475.6 1412.3,475.4 1410.3,475.2 1408.3,475.0 1406.3,474.8 1404.3,474.7 1402.3,474.5 1400.3,474.4 1398.3,474.3 1396.3,474.2 1394.3,474.1 1392.3,474.1 1390.3,474.0 1388.3,474.0 1386.3,473.9 1384.3,473.9 1382.3,473.9 1380.3,473.9 1378.2,473.9 1376.2,473.9 1374.2,473.9 1372.2,474.0 1370.2,474.0 1368.2,474.1 1366.2,474.1 1364.2,474.2 1362.2,474.3 1360.2,474.4 1358.2,474.5 1356.2,474.5 1354.2,474.6 1352.2,474.8 1350.2,474.9 1348.2,475.0 1346.2,475.1 1344.2,475.2 1342.2,475.4 1340.1,475.5 1338.1,475.6 1336.1,475.8 1334.1,475.9 1332.1,476.1 1330.1,476.2 1328.1,476.4 1326.1,476.5 1324.1,476.7 1322.1,476.8 1320.1,477.0 1318.1,477.1 1316.1,477.3 1314.1,477.4 1312.1,477.6 1310.1,477.8 1308.1,477.9 1306.1,478.1 1304.1,478.2 1302.1,478.4 1300.0,478.6 1298.0,478.7 1296.0,478.9 1294.0,479.0 1292.0,479.2 1290.0,479.3 1288.0,479.5 1286.0,479.6 1284.0,479.8 1282.0,479.9 1280.0,480.0 1278.0,480.2 1276.0,480.3 1274.0,480.4 1272.0,480.6 1270.0,480.7 1268.0,480.8 1266.0,480.9 1264.0,481.0 1262.0,481.1 1259.9,481.2 1257.9,481.3 1255.9,481.3 1253.9,481.4 1251.9,481.5 1249.9,481.5 1247.9,481.6 1245.9,481.6 1243.9,481.7 1241.9,481.7 1239.9,481.7 1237.9,481.8 1235.9,481.8 1233.9,481.8 1231.9,481.8 1229.9,481.7 1227.9,481.7 1225.9,481.7 1223.9,481.6 1221.9,481.6 1219.8,481.5 1217.8,481.4 1215.8,481.3 1213.8,481.2 1211.8,481.1 1209.8,481.0 1207.8,480.9 1205.8,480.7 1203.8,480.6 1201.8,480.4 1199.8,480.2 1197.8,480.0 1195.8,479.8 1193.8,479.6 1191.8,479.4 1189.8,479.1 1187.8,478.9 1185.8,478.6 1183.8,478.3 1181.7,478.0 1179.7,477.7 1177.7,477.4 1175.7,477.0 1173.7,476.6 1171.7,476.3 1169.7,475.9 1167.7,475.5 1165.7,475.0 1163.7,474.6 1161.7,474.1 1159.7,473.7 1157.7,473.2 1155.7,472.7 1153.7,472.2 1151.7,471.6 1149.7,471.1 1147.7,470.5 1145.7,470.0 1143.7,469.4 1141.6,468.8 1139.6,468.1 1137.6,467.5 1135.6,466.9 1133.6,466.2 1131.6,465.5 1129.6,464.8 1127.6,464.1 1125.6,463.4 1123.6,462.7 1121.6,461.9 1119.6,461.1 1117.6,460.4 1115.6,459.6 1113.6,458.7 1111.6,457.9 1109.6,457.1 1107.6,456.2 1105.6,455.3 1103.6,454.4 1101.5,453.5 1099.5,452.6 1097.5,451.7 1095.5,450.7 1093.5,449.8 1091.5,448.8 1089.5,447.9 1087.5,446.9 1085.5,446.0 1083.5,445.1 1081.5,444.1 1079.5,443.2 1077.5,442.3 1075.5,441.4 1073.5,440.6 1071.5,439.7 1069.5,438.9 1067.5,438.1 1065.5,437.4 1063.4,436.6 1061.4,435.9 1059.4,435.3 1057.4,434.7 1055.4,434.1 1053.4,433.6 1051.4,433.1 1049.4,432.7 1047.4,432.3 1045.4,431.9 1043.4,431.6 1041.4,431.3 1039.4,431.0 1037.4,430.8 1035.4,430.6 1033.4,430.5 1031.4,430.4 1029.4,430.3 1027.4,430.2 1025.4,430.1 1023.3,430.1 1021.3,430.1 1019.3,430.1 1017.3,430.2 1015.3,430.2 1013.3,430.3 1011.3,430.4 1009.3,430.5 1007.3,430.6 1005.3,430.8 1003.3,430.9 1001.3,431.1 999.3,431.3 997.3,431.5 995.3,431.7 993.3,432.0 991.3,432.3 989.3,432.5 987.3,432.8 985.3,433.2 983.2,433.5 981.2,433.9 979.2,434.2 977.2,434.6 975.2,435.0 973.2,435.5 971.2,435.9 969.2,436.3 967.2,436.8 965.2,437.3 963.2,437.8 961.2,438.3 959.2,438.9 957.2,439.4 955.2,440.0 953.2,440.6 951.2,441.2 949.2,441.8 947.2,442.5 945.2,443.1 943.1,443.8 941.1,444.5 939.1,445.2 937.1,445.9 935.1,446.6 933.1,447.4 931.1,448.1 929.1,448.9 927.1,449.7 925.1,450.5" fill="rgb(55,172,245)" fill-opacity="0.3"/>
<path d="M924.7 2.0V20.0M935.9 2.0V20.0M943.3 2.0V20.0M982.2 2.0V20.0M992.4 2.0V20.0M1030.4 2.0V20.0M1032.3 2.0V20.0M1034.1 2.0V20.0M1061.4 2.0V20.0M1075.7 2.0V20.0M1085.5 2.0V20.0M1091.0 2.0V20.0M1097.3 2.0V20.0M1155.3 2.0V20.0M1211.8 2.0V20.0M1215.4 2.0V20.0M1217.3 2.0V20.0M1220.9 2.0V20.0M1222.7 2.0V20.0M1231.2 2.0V20.0M1246.2 2.0V20.0M1400.5 2.0V20.0M1576.9 2.0V20.0M1637.0 2.0V20.0M1065.9 627.0V644.9M1072.4 627.0V644.9M1075.7 627.0V644.9M1077.5 627.0V644.9M1080.9 627.0V644.9M1085.9 627.0V644.9M1087.5 627.0V644.9M1092.1 627.0V644.9M1093.9 627.0V644.9M1096.9 627.0V644.9M1099.7 627.0V644.9M1109.1 627.0V644.9M1111.5 627.0V644.9M1117.0 627.0V644.9M1119.4 627.0V644.9M1122.2 627.0V644.9M1132.5 627.0V644.9M1134.0 627.0V644.9M1135.5 627.0V644.9M1137.1 627.0V644.9M1138.6 627.0V644.9M1140.2 627.0V644.9M1141.7 627.0V644.9M1143.3 627.0V644.9M1144.8 627.0V644.9M1146.4 627.0V644.9M1147.9 627.0V644.9M1149.5 627.0V644.9M1151.0 627.0V644.9M1152.5 627.0V644.9M1157.8 627.0V644.9M1159.4 627.0V644.9M1160.9 627.0V644.9M1162.4 627.0V644.9M1164.0 627.0V644.9M1165.5 627.0V644.9M1167.0 627.0V644.9M1168.6 627.0V644.9M1170.1 627.0V644.9M1171.6 627.0V644.9M1173.2 627.0V644.9M1174.7 627.0V644.9M1176.2 627.0V644.9M1177.8 627.0V644.9M1179.3 627.0V644.9M1180.8 627.0V644.9M1182.4 627.0V644.9M1183.9 627.0V644.9M1185.4 627.0V644.9M1187.0 627.0V644.9M1188.5 627.0V644.9M1190.0 627.0V644.9M1191.5 627.0V644.9M1195.5 627.0V644.9M1199.7 627.0V644.9M1201.6 627.0V644.9M1203.5 627.0V644.9M1216.6 627.0V644.9M1227.5 627.0V644.9M1238.2 627.0V644.9M1239.7 627.0V644.9M1244.5 627.0V644.9M1247.6 627.0V644.9" class="rug"/>
<polyline points="925.1,340.0 927.1,341.0 929.1,342.1 931.1,343.2 933.1,344.3 935.1,345.4 937.1,346.5 939.1,347.6 941.1,348.7 943.1,349.9 945.2,351.0 947.2,352.2 949.2,353.3 951.2,354.5 953.2,355.7 955.2,356.9 957.2,358.1 959.2,359.3 961.2,360.5 963.2,361.7 965.2,362.9 967.2,364.1 969.2,365.3 971.2,366.6 973.2,367.8 975.2,369.0 977.2,370.3 979.2,371.5 981.2,372.8 983.2,374.0 985.3,375.3 987.3,376.5 989.3,377.8 991.3,379.1 993.3,380.3 995.3,381.6 997.3,382.9 999.3,384.2 1001.3,385.4 1003.3,386.7 1005.3,388.0 1007.3,389.2 1009.3,390.5 1011.3,391.8 1013.3,393.1 1015.3,394.3 1017.3,395.6 1019.3,396.9 1021.3,398.1 1023.3,399.4 1025.4,400.7 1027.4,401.9 1029.4,403.2 1031.4,404.4 1033.4,405.7 1035.4,406.9 1037.4,408.2 1039.4,409.4 1041.4,410.6 1043.4,411.9 1045.4,413.1 1047.4,414.3 1049.4,415.5 1051.4,416.7 1053.4,417.9 1055.4,419.1 1057.4,420.3 1059.4,421.5 1061.4,422.7 1063.4,423.9 1065.5,425.0 1067.5,426.2 1069.5,427.3 1071.5,428.4 1073.5,429.6 1075.5,430.7 1077.5,431.8 1079.5,432.9 1081.5,433.9 1083.5,435.0 1085.5,436.0 1087.5,437.1 1089.5,438.1 1091.5,439.1 1093.5,440.0 1095.5,441.0 1097.5,441.9 1099.5,442.8 1101.5,443.7 1103.6,444.6 1105.6,445.5 1107.6,446.3 1109.6,447.1 1111.6,447.9 1113.6,448.6 1115.6,449.4 1117.6,450.1 1119.6,450.8 1121.6,451.5 1123.6,452.1 1125.6,452.7 1127.6,453.4 1129.6,454.0 1131.6,454.5 1133.6,455.1 1135.6,455.6 1137.6,456.1 1139.6,456.6 1141.6,457.1 1143.7,457.5 1145.7,458.0 1147.7,458.4 1149.7,458.8 1151.7,459.2 1153.7,459.5 1155.7,459.9 1157.7,460.2 1159.7,460.5 1161.7,460.8 1163.7,461.0 1165.7,461.3 1167.7,461.5 1169.7,461.7 1171.7,461.9 1173.7,462.1 1175.7,462.3 1177.7,462.4 1179.7,462.5 1181.7,462.6 1183.8,462.7 1185.8,462.8 1187.8,462.8 1189.8,462.9 1191.8,462.9 1193.8,462.9 1195.8,462.9 1197.8,462.9 1199.8,462.8 1201.8,462.8 1203.8,462.7 1205.8,462.6 1207.8,462.5 1209.8,462.4 1211.8,462.3 1213.8,462.1 1215.8,462.0 1217.8,461.8 1219.8,461.6 1221.9,461.4 1223.9,461.2 1225.9,461.0 1227.9,460.7 1229.9,460.5 1231.9,460.2 1233.9,459.9 1235.9,459.6 1237.9,459.3 1239.9,459.0 1241.9,458.7 1243.9,458.3 1245.9,458.0 1247.9,457.6 1249.9,457.2 1251.9,456.9 1253.9,456.5 1255.9,456.1 1257.9,455.6 1259.9,455.2 1262.0,454.8 1264.0,454.3 1266.0,453.9 1268.0,453.4 1270.0,452.9 1272.0,452.5 1274.0,452.0 1276.0,451.5 1278.0,451.0 1280.0,450.4 1282.0,449.9 1284.0,449.4 1286.0,448.9 1288.0,448.3 1290.0,447.8 1292.0,447.2 1294.0,446.6 1296.0,446.1 1298.0,445.5 1300.0,444.9 1302.1,444.3 1304.1,443.7 1306.1,443.1 1308.1,442.5 1310.1,441.9 1312.1,441.3 1314.1,440.7 1316.1,440.1 1318.1,439.4 1320.1,438.8 1322.1,438.2 1324.1,437.5 1326.1,436.9 1328.1,436.3 1330.1,435.6 1332.1,435.0 1334.1,434.3 1336.1,433.7 1338.1,433.0 1340.1,432.4 1342.2,431.7 1344.2,431.0 1346.2,430.4 1348.2,429.7 1350.2,429.0 1352.2,428.4 1354.2,427.7 1356.2,427.0 1358.2,426.3 1360.2,425.6 1362.2,425.0 1364.2,424.3 1366.2,423.6 1368.2,422.9 1370.2,422.2 1372.2,421.5 1374.2,420.8 1376.2,420.1 1378.2,419.4 1380.3,418.7 1382.3,418.0 1384.3,417.3 1386.3,416.6 1388.3,415.9 1390.3,415.2 1392.3,414.5 1394.3,413.8 1396.3,413.0 1398.3,412.3 1400.3,411.6 1402.3,410.9 1404.3,410.2 1406.3,409.4 1408.3,408.7 1410.3,408.0 1412.3,407.3 1414.3,406.5 1416.3,405.8 1418.3,405.1 1420.4,404.3 1422.4,403.6 1424.4,402.9 1426.4,402.1 1428.4,401.4 1430.4,400.7 1432.4,399.9 1434.4,399.2 1436.4,398.4 1438.4,397.7 1440.4,396.9 1442.4,396.2 1444.4,395.5 1446.4,394.7 1448.4,394.0 1450.4,393.2 1452.4,392.5 1454.4,391.7 1456.4,391.0 1458.4,390.2 1460.5,389.4 1462.5,388.7 1464.5,387.9 1466.5,387.2 1468.5,386.4 1470.5,385.7 1472.5,384.9 1474.5,384.2 1476.5,383.4 1478.5,382.6 1480.5,381.9 1482.5,381.1 1484.5,380.4 1486.5,379.6 1488.5,378.8 1490.5,378.1 1492.5,377.3 1494.5,376.6 1496.5,375.8 1498.6,375.0 1500.6,374.3 1502.6,373.5 1504.6,372.7 1506.6,372.0 1508.6,371.2 1510.6,370.5 1512.6,369.7 1514.6,368.9 1516.6,368.2 1518.6,367.4 1520.6,366.6 1522.6,365.9 1524.6,365.1 1526.6,364.3 1528.6,363.6 1530.6,362.8 1532.6,362.1 1534.6,361.3 1536.6,360.5 1538.7,359.8 1540.7,359.0 1542.7,358.3 1544.7,357.5 1546.7,356.7 1548.7,356.0 1550.7,355.2 1552.7,354.5 1554.7,353.7 1556.7,353.0 1558.7,352.2 1560.7,351.4 1562.7,350.7 1564.7,349.9 1566.7,349.2 1568.7,348.4 1570.7,347.7 1572.7,346.9 1574.7,346.2 1576.7,345.4 1578.8,344.7 1580.8,343.9 1582.8,343.2 1584.8,342.5 1586.8,341.7 1588.8,341.0 1590.8,340.2 1592.8,339.5 1594.8,338.8 1596.8,338.0 1598.8,337.3 1600.8,336.5 1602.8,335.8 1604.8,335.1 1606.8,334.3 1608.8,333.6 1610.8,332.9 1612.8,332.2 1614.8,331.4 1616.8,330.7 1618.9,330.0 1620.9,329.3 1622.9,328.6 1624.9,327.8 1626.9,327.1 1628.9,326.4 1630.9,325.7 1632.9,325.0 1634.9,324.3 1636.9,323.6" fill="none" stroke="#0028ff" class="ln" style="stroke-width:5.6"/>
<g fill="none" stroke="#00168e" class="pt"><circle cx="924.6" cy="339.6" r="5.15"/><circle cx="935.6" cy="346.3" r="5.15"/><circle cx="943.5" cy="351.0" r="5.15"/><circle cx="982.1" cy="374.1" r="5.15"/><circle cx="992.5" cy="380.0" r="5.15"/><circle cx="1031.3" cy="404.1" r="5.15"/><circle cx="1034.1" cy="406.3" r="5.15"/><circle cx="1061.3" cy="413.1" r="5.15"/><circle cx="1061.3" cy="415.0" r="5.15"/><circle cx="1075.5" cy="419.3" r="5.15"/><circle cx="1085.5" cy="420.9" r="5.15"/><circle cx="1097.6" cy="425.0" r="5.15"/><circle cx="1091.2" cy="433.1" r="5.15"/><circle cx="1065.4" cy="436.3" r="5.15"/><circle cx="1071.7" cy="438.1" r="5.15"/><circle cx="1075.8" cy="437.6" r="5.15"/><circle cx="1077.6" cy="439.5" r="5.15"/><circle cx="1081.5" cy="440.5" r="5.15"/><circle cx="1085.3" cy="442.2" r="5.15"/><circle cx="1090.8" cy="444.0" r="5.15"/><circle cx="1096.2" cy="446.7" r="5.15"/><circle cx="1099.9" cy="448.5" r="5.15"/><circle cx="1154.9" cy="437.1" r="5.15"/><circle cx="1212.3" cy="437.3" r="5.15"/><circle cx="1215.8" cy="445.8" r="5.15"/><circle cx="1222.7" cy="453.4" r="5.15"/><circle cx="1231.5" cy="454.2" r="5.15"/><circle cx="1215.0" cy="461.1" r="5.15"/><circle cx="1218.1" cy="459.6" r="5.15"/><circle cx="1221.9" cy="458.1" r="5.15"/><circle cx="1216.5" cy="468.0" r="5.15"/><circle cx="1216.5" cy="471.1" r="5.15"/><circle cx="1227.3" cy="464.2" r="5.15"/><circle cx="1238.0" cy="461.1" r="5.15"/><circle cx="1244.2" cy="465.7" r="5.15"/><circle cx="1247.3" cy="457.3" r="5.15"/><circle cx="1248.8" cy="459.6" r="5.15"/><circle cx="1242.7" cy="456.5" r="5.15"/><circle cx="1213.5" cy="464.0" r="5.15"/><circle cx="1219.5" cy="462.5" r="5.15"/><circle cx="1400.7" cy="408.9" r="5.15"/><circle cx="1576.8" cy="345.7" r="5.15"/><circle cx="1637.1" cy="323.4" r="5.15"/><circle cx="1109.1" cy="448.9" r="5.15"/><circle cx="1111.5" cy="450.1" r="5.15"/><circle cx="1117.0" cy="452.3" r="5.15"/><circle cx="1119.4" cy="453.5" r="5.15"/><circle cx="1122.2" cy="453.9" r="5.15"/><circle cx="1132.5" cy="457.5" r="5.15"/><circle cx="1134.0" cy="455.7" r="5.15"/><circle cx="1135.5" cy="457.2" r="5.15"/><circle cx="1137.1" cy="458.7" r="5.15"/><circle cx="1138.6" cy="458.4" r="5.15"/><circle cx="1140.2" cy="459.4" r="5.15"/><circle cx="1141.7" cy="457.9" r="5.15"/><circle cx="1143.3" cy="459.1" r="5.15"/><circle cx="1144.8" cy="458.9" r="5.15"/><circle cx="1146.4" cy="459.9" r="5.15"/><circle cx="1147.9" cy="460.3" r="5.15"/><circle cx="1149.5" cy="459.3" r="5.15"/><circle cx="1151.0" cy="460.1" r="5.15"/><circle cx="1152.5" cy="460.5" r="5.15"/><circle cx="1157.8" cy="462.9" r="5.15"/><circle cx="1159.4" cy="462.8" r="5.15"/><circle cx="1160.9" cy="461.5" r="5.15"/><circle cx="1162.4" cy="463.3" r="5.15"/><circle cx="1164.0" cy="461.9" r="5.15"/><circle cx="1165.5" cy="463.2" r="5.15"/><circle cx="1167.0" cy="462.2" r="5.15"/><circle cx="1168.6" cy="462.1" r="5.15"/><circle cx="1170.1" cy="464.4" r="5.15"/><circle cx="1171.6" cy="462.9" r="5.15"/><circle cx="1173.2" cy="463.1" r="5.15"/><circle cx="1174.7" cy="465.0" r="5.15"/><circle cx="1176.2" cy="464.9" r="5.15"/><circle cx="1177.8" cy="463.6" r="5.15"/><circle cx="1179.3" cy="465.3" r="5.15"/><circle cx="1180.8" cy="464.4" r="5.15"/><circle cx="1182.4" cy="464.8" r="5.15"/><circle cx="1183.9" cy="463.7" r="5.15"/><circle cx="1185.4" cy="465.5" r="5.15"/><circle cx="1187.0" cy="465.0" r="5.15"/><circle cx="1188.5" cy="465.7" r="5.15"/><circle cx="1190.0" cy="465.5" r="5.15"/><circle cx="1191.5" cy="464.1" r="5.15"/><circle cx="1195.5" cy="464.3" r="5.15"/><circle cx="1199.7" cy="463.7" r="5.15"/><circle cx="1201.6" cy="463.6" r="5.15"/><circle cx="1203.5" cy="463.4" r="5.15"/></g>
<rect x="917.5" y="1.35" width="727" height="644.15" class="bd"/>
<path d="M926.50 645.5V652.8M1019.41 645.5V652.8M1112.32 645.5V652.8M1205.23 645.5V652.8M1298.14 645.5V652.8M1391.05 645.5V652.8M1483.96 645.5V652.8M1576.87 645.5V652.8M910.2 628.12H917.5M910.2 424.05H917.5M910.2 219.97H917.5M910.2 15.90H917.5" class="tk"/>
<text x="926.50" y="676.2" class="xl">35</text>
<text x="1019.41" y="676.2" class="xl">36</text>
<text x="1112.32" y="676.2" class="xl">37</text>
<text x="1205.23" y="676.2" class="xl">38</text>
<text x="1298.14" y="676.2" class="xl">39</text>
<text x="1391.05" y="676.2" class="xl">40</text>
<text x="1483.96" y="676.2" class="xl">41</text>
<text x="1576.87" y="676.2" class="xl">42</text>
<text x="903.3" y="636.52" class="yl">-25</text>
<text x="903.3" y="432.45" class="yl">0</text>
<text x="903.3" y="228.38" class="yl">25</text>
<text x="903.3" y="24.30" class="yl">50</text>
<text x="968.8" y="73.9" class="lab">B</text>
<text transform="translate(951.4 98.1) scale(1 1.07)" class="pv" fill="#0026ff">p&lt;0.001</text>
<text x="444.7" y="709.7" class="ti" text-anchor="middle">Temperature (ºC)</text>
<text x="1281.1" y="709.7" class="ti" text-anchor="middle">Salinity (psu)</text>
<text transform="translate(21.6,323.5) rotate(-90)" class="ti" text-anchor="middle">s(Temperature)</text>
<text transform="translate(857.8,323.4) rotate(-90)" class="ti" text-anchor="middle">s(Salinity)</text>
</svg>
</body></html>
